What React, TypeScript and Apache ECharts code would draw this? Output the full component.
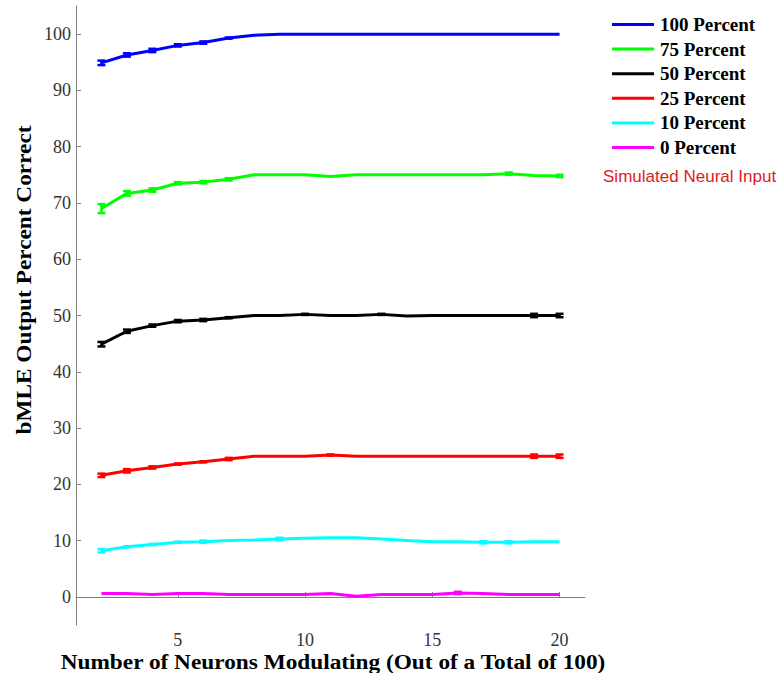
import React, { useEffect, useRef } from "react";
import * as echarts from "echarts";

// Number of modulating neurons (x) and bMLE percent correct per simulated input level
const neurons = [2, 3, 4, 5, 6, 7, 8, 9, 10, 11, 12, 13, 14, 15, 16, 17, 18, 19, 20];

const p100 = [94.9, 96.3, 97.1, 98.0, 98.5, 99.3, 99.8, 100, 100, 100, 100, 100, 100, 100, 100, 100, 100, 100, 100];
const p75 = [69.0, 71.7, 72.3, 73.5, 73.7, 74.2, 75.0, 75.0, 75.0, 74.7, 75.0, 75.0, 75.0, 75.0, 75.0, 75.0, 75.2, 74.9, 74.8];
const p50 = [44.9, 47.2, 48.2, 49.0, 49.2, 49.6, 50.0, 50.0, 50.2, 50.0, 50.0, 50.2, 49.9, 50.0, 50.0, 50.0, 50.0, 50.0, 50.0];
const p25 = [21.6, 22.4, 23.0, 23.6, 24.0, 24.5, 25.0, 25.0, 25.0, 25.2, 25.0, 25.0, 25.0, 25.0, 25.0, 25.0, 25.0, 25.0, 25.0];
const p10 = [8.2, 8.9, 9.3, 9.7, 9.8, 10.0, 10.1, 10.3, 10.4, 10.5, 10.5, 10.3, 10.0, 9.8, 9.8, 9.7, 9.7, 9.8, 9.8];
const p0 = [0.6, 0.6, 0.4, 0.6, 0.6, 0.4, 0.4, 0.4, 0.4, 0.6, 0.1, 0.4, 0.4, 0.4, 0.7, 0.6, 0.4, 0.4, 0.4];

// Standard errors (half-height of each error bar)
const e100 = [0.4, 0.3, 0.3, 0.2, 0.2, 0.1, 0, 0, 0, 0, 0, 0, 0, 0, 0, 0, 0, 0, 0];
const e75 = [0.8, 0.4, 0.3, 0.2, 0.2, 0.2, 0, 0, 0, 0, 0, 0, 0, 0, 0, 0, 0.2, 0, 0.2];
const e50 = [0.4, 0.3, 0.2, 0.2, 0.2, 0.1, 0, 0, 0.1, 0, 0, 0.1, 0, 0, 0, 0, 0, 0.3, 0.3];
const e25 = [0.3, 0.3, 0.2, 0.1, 0.1, 0.2, 0, 0, 0, 0.1, 0, 0, 0, 0, 0, 0, 0, 0.3, 0.3];
const e10 = [0.3, 0.1, 0.1, 0.1, 0.2, 0, 0, 0.2, 0, 0, 0, 0, 0, 0, 0, 0.2, 0.2, 0, 0];
const e0 = [0, 0, 0, 0, 0, 0, 0, 0, 0, 0, 0, 0, 0, 0, 0.2, 0, 0, 0, 0];

const seriesNames = ["100 Percent", "75 Percent", "50 Percent", "25 Percent", "10 Percent", "0 Percent"];
const seriesValues = [p100, p75, p50, p25, p10, p0];
const seriesErrors = [e100, e75, e50, e25, e10, e0];
const seriesColors = ["#0000ff", "#00ff00", "#000000", "#ff0000", "#00ffff", "#ff00ff"];

const yTicks = [0, 10, 20, 30, 40, 50, 60, 70, 80, 90, 100];
const xTicks = [5, 10, 15, 20];

const SERIF = "'Liberation Serif', 'Times New Roman', serif";
const SANS = "'Liberation Sans', Arial, sans-serif";

export default function App() {
  const ref = useRef<HTMLDivElement>(null);

  useEffect(() => {
    if (!ref.current) return;
    const chart = echarts.init(ref.current, null, { renderer: "svg" });

    const lineSeries = seriesNames.map((name, i) => ({
      name,
      type: "line",
      data: neurons.map((x, j) => [x, seriesValues[i][j]]),
      showSymbol: false,
      symbol: "none",
      lineStyle: { color: seriesColors[i], width: 3 },
      itemStyle: { color: seriesColors[i] },
      z: 3,
    }));

    const errorSeries = seriesNames.map((name, i) => ({
      name: name + " error",
      type: "custom",
      data: neurons.map((x, j) => [x, seriesValues[i][j], seriesErrors[i][j]]),
      z: 4,
      renderItem: (params: any, api: any) => {
        const x = api.value(0);
        const y = api.value(1);
        const e = api.value(2);
        if (!e) return null;
        const hi = api.coord([x, y + e]);
        const lo = api.coord([x, y - e]);
        const hw = 4;
        const style = { stroke: seriesColors[i], lineWidth: 2.5 };
        return {
          type: "group",
          children: [
            { type: "line", shape: { x1: hi[0], y1: hi[1], x2: lo[0], y2: lo[1] }, style },
            { type: "line", shape: { x1: hi[0] - hw, y1: hi[1], x2: hi[0] + hw, y2: hi[1] }, style },
            { type: "line", shape: { x1: lo[0] - hw, y1: lo[1], x2: lo[0] + hw, y2: lo[1] }, style },
          ],
        };
      },
    }));

    chart.setOption({
      animation: false,
      backgroundColor: "#ffffff",
      grid: { left: 76, right: 198, top: 6, bottom: 48, containLabel: false },
      legend: {
        data: seriesNames,
        orient: "vertical",
        left: 612,
        top: 15,
        padding: 0,
        itemWidth: 42,
        itemHeight: 3,
        itemGap: 5.6,
        icon: "rect",
        selectedMode: false,
        textStyle: {
          fontFamily: SERIF,
          fontWeight: "bold",
          fontSize: 19,
          lineHeight: 18,
          color: "#000",
          padding: [0, 0, 0, 1],
        },
      },
      xAxis: {
        type: "value",
        min: 1,
        max: 21,
        axisLine: { show: true, lineStyle: { color: "#808080", width: 1 } },
        axisTick: { show: true, inside: true, length: 5, customValues: xTicks, lineStyle: { color: "#808080" } },
        axisLabel: { customValues: xTicks, margin: 6, fontFamily: SERIF, fontSize: 18, color: "#333" },
        splitLine: { show: false },
      },
      yAxis: {
        type: "value",
        min: -5,
        max: 105,
        axisLine: { show: true, lineStyle: { color: "#808080", width: 1 } },
        axisTick: { show: true, inside: true, length: 5, customValues: yTicks, lineStyle: { color: "#808080" } },
        axisLabel: { customValues: yTicks, margin: 5, fontFamily: SERIF, fontSize: 18, color: "#333" },
        splitLine: { show: false },
      },
      graphic: [
        {
          type: "text",
          x: 333,
          y: 662,
          scaleX: 1.11,
          style: {
            text: "Number of Neurons Modulating (Out of a Total of 100)",
            fontFamily: SERIF,
            fontWeight: "bold",
            fontSize: 21,
            fill: "#000",
            textAlign: "center",
            textVerticalAlign: "middle",
          },
        },
        {
          type: "text",
          x: 24,
          y: 280,
          rotation: Math.PI / 2,
          scaleX: 1.11,
          style: {
            text: "bMLE Output Percent Correct",
            fontFamily: SERIF,
            fontWeight: "bold",
            fontSize: 21,
            fill: "#000",
            textAlign: "center",
            textVerticalAlign: "middle",
          },
        },
        {
          type: "text",
          x: 603,
          y: 177,
          scaleX: 1.065,
          style: {
            text: "Simulated Neural Input",
            fontFamily: SANS,
            fontSize: 16,
            fill: "#e01b1b",
            textAlign: "left",
            textVerticalAlign: "middle",
          },
        },
      ],
      series: [...lineSeries, ...errorSeries],
    });

    return () => chart.dispose();
  }, []);

  return (
    <div
      ref={ref}
      style={{ position: "fixed", left: 0, top: 0, width: 783, height: 673 }}
    />
  );
}
